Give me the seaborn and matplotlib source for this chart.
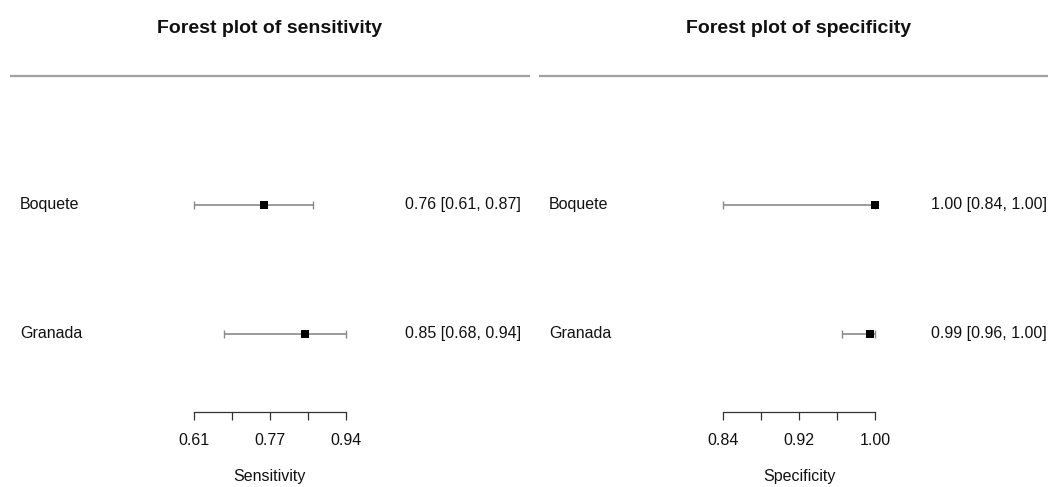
import numpy as np
import pandas as pd
import matplotlib
matplotlib.use("Agg")
import matplotlib.pyplot as plt
import seaborn as sns

# ---------------- data ----------------
studies = ["Boquete", "Granada"]
sens_est = [0.762, 0.851]
sens_lo = [0.61, 0.676]
sens_hi = [0.869, 0.94]
spec_est = [1.00, 0.994]
spec_lo = [0.84, 0.965]
spec_hi = [1.00, 1.00]
sens_ticks = [0.61, 0.6925, 0.775, 0.8575, 0.94]
sens_ticklabels = ["0.61", "", "0.77", "", "0.94"]
spec_ticks = [0.84, 0.88, 0.92, 0.96, 1.00]
spec_ticklabels = ["0.84", "", "0.92", "", "1.00"]
titles = ["Forest plot of sensitivity", "Forest plot of specificity"]
xlabels = ["Sensitivity", "Specificity"]

# ---------------- style ----------------
sns.set_style("white")
plt.rcParams['font.family'] = ['Liberation Sans', 'DejaVu Sans']

W, H = 1048, 487
fig = plt.figure(figsize=(W / 100, H / 100), dpi=100)

# layout (pixel geometry of each panel)
panels = [
    dict(x0=10, x1=530, ref_v=0.61, ref_px=193.5, scale=462.0, annot_x=0.983,
         est=sens_est, lo=sens_lo, hi=sens_hi, ticks=sens_ticks,
         ticklabels=sens_ticklabels, title=titles[0], xlabel=xlabels[0]),
    dict(x0=539, x1=1059, ref_v=0.84, ref_px=722.7, scale=953.8, annot_x=0.976,
         est=spec_est, lo=spec_lo, hi=spec_hi, ticks=spec_ticks,
         ticklabels=spec_ticklabels, title=titles[1], xlabel=xlabels[1]),
]


def ypx(px):
    # map a figure pixel row to data y (study k at y=k)
    return 2 + (204.5 - px) / 129.0


k = len(studies)
ypos = list(range(k, 0, -1))

for p in panels:
    ax = fig.add_axes([p["x0"] / W, 0, (p["x1"] - p["x0"]) / W, 1])
    vx = lambda px: p["ref_v"] + (px - p["ref_px"]) / p["scale"]
    ax.set_xlim(vx(p["x0"]), vx(p["x1"]))
    ax.set_ylim(ypx(H), ypx(0))
    ax.set_facecolor("none")

    df = pd.DataFrame({"study": studies, "est": p["est"], "lo": p["lo"],
                       "hi": p["hi"], "y": ypos})
    est = df["est"].to_numpy()
    ax.errorbar(est, df["y"], xerr=[est - df["lo"].to_numpy(), df["hi"].to_numpy() - est],
                fmt="none", ecolor="#8a8a8a", elinewidth=1.2, capsize=3, capthick=1.0,
                zorder=2)
    sns.scatterplot(data=df, x="est", y="y", marker="s", s=28, color="black",
                    linewidth=0, ax=ax, zorder=3)

    ax.axhline(k + 1, color="#a0a0a0", lw=1.6)

    tr = ax.get_yaxis_transform()
    for name, yv, e, l, h in zip(studies, ypos, p["est"], p["lo"], p["hi"]):
        ax.text(0.019, yv, name, transform=tr, ha="left", va="center", fontsize=11.5,
                color="#111111")
        ax.text(p["annot_x"], yv, f"{e:.2f} [{l:.2f}, {h:.2f}]", transform=tr, ha="right",
                va="center", fontsize=11.5, color="#111111")

    ax.text(0.5, ypx(28), p["title"], transform=tr, ha="center", va="center",
            fontsize=14, fontweight="bold", color="#111111")

    # x axis drawn as a bounded spine
    for s in ["top", "right", "left"]:
        ax.spines[s].set_visible(False)
    ax.spines["bottom"].set_position(("data", ypx(411.7)))
    ax.spines["bottom"].set_bounds(p["ticks"][0], p["ticks"][-1])
    ax.spines["bottom"].set_color("#333333")
    ax.spines["bottom"].set_linewidth(0.9)
    ax.set_xticks(p["ticks"], p["ticklabels"])
    ax.tick_params(axis="x", direction="out", length=5.5, width=0.9, colors="#333333",
                   labelcolor="#111111", labelsize=11.5, pad=9.5, bottom=True)
    ax.set_yticks([])
    ax.set_xlabel("")
    ax.set_ylabel("")
    mid = (p["ticks"][0] + p["ticks"][-1]) / 2
    ax.text(mid, ypx(476), p["xlabel"], ha="center", va="center", fontsize=11.5,
            color="#111111")

fig.savefig("out.png", dpi=100)
